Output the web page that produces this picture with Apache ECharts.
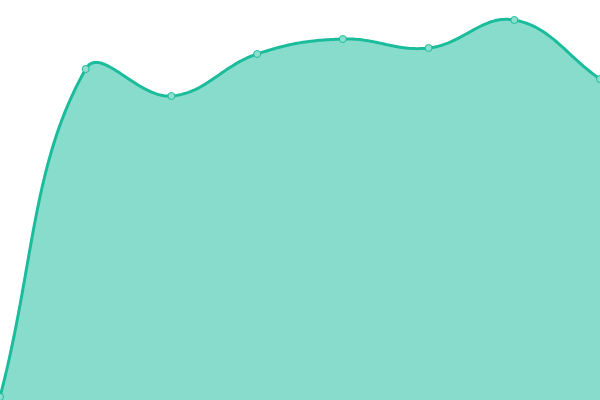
<!DOCTYPE html>
<html>
<head>
<meta charset="utf-8">
<script src="https://cdn.jsdelivr.net/npm/echarts@6/dist/echarts.min.js"></script>
<style>html,body{margin:0;padding:0;background:#fff}#c{width:600px;height:400px}</style>
</head>
<body>
<div id="c"></div>
<script>
const categories = ['1', '2', '3', '4', '5', '6', '7', '8'];
const values = [3, 331, 304, 346, 361, 352, 380, 321];
const TENSION = 0.4;

function renderCurve(params, api) {
  if (params.dataIndex !== 0) return null;
  const pts = values.map((v, i) => api.coord([i, v]));
  const n = pts.length;
  const cpIn = [], cpOut = [];
  for (let i = 0; i < n; i++) {
    const p = pts[i];
    const a = i === 0 ? p : pts[i - 1];
    const b = i === n - 1 ? p : pts[i + 1];
    const d01 = Math.hypot(p[0] - a[0], p[1] - a[1]);
    const d12 = Math.hypot(b[0] - p[0], b[1] - p[1]);
    const s = d01 + d12;
    const s01 = s ? d01 / s : 0, s12 = s ? d12 / s : 0;
    const vx = b[0] - a[0], vy = b[1] - a[1];
    cpIn[i] = [p[0] - TENSION * s01 * vx, p[1] - TENSION * s01 * vy];
    cpOut[i] = [p[0] + TENSION * s12 * vx, p[1] + TENSION * s12 * vy];
  }
  const curve = [pts[0]];
  const N = 40;
  for (let i = 0; i < n - 1; i++) {
    const p0 = pts[i], c0 = cpOut[i], c1 = cpIn[i + 1], p1 = pts[i + 1];
    for (let k = 1; k <= N; k++) {
      const t = k / N, u = 1 - t;
      const x = u*u*u*p0[0] + 3*u*u*t*c0[0] + 3*u*t*t*c1[0] + t*t*t*p1[0];
      const y = u*u*u*p0[1] + 3*u*u*t*c0[1] + 3*u*t*t*c1[1] + t*t*t*p1[1];
      curve.push([x, y]);
    }
  }
  const base = api.coord([0, 0])[1];
  const area = curve.concat([[pts[n - 1][0], base], [pts[0][0], base]]);
  return {
    type: 'group',
    children: [
      { type: 'polygon', shape: { points: area }, style: { fill: 'rgba(26,188,156,0.52)' } },
      { type: 'polyline', shape: { points: curve }, style: { stroke: '#1abc9c', lineWidth: 3, fill: null, lineJoin: 'round' } }
    ]
  };
}

const chart = echarts.init(document.getElementById('c'));
chart.setOption({
  animation: false,
  grid: { left: 0, right: 0, top: 0, bottom: 0 },
  xAxis: { type: 'category', data: categories, boundaryGap: false, show: false },
  yAxis: { type: 'value', min: 0, max: 400, show: false },
  series: [
    {
      type: 'custom',
      renderItem: renderCurve,
      data: values.map((v, i) => [i, v]),
      clip: false,
      z: 1
    },
    {
      type: 'scatter',
      data: values,
      symbol: 'circle',
      symbolSize: 7,
      itemStyle: { color: '#8ddfce', borderColor: '#1abc9c', borderWidth: 1, opacity: 1 },
      z: 3
    }
  ]
});
</script>
</body>
</html>
